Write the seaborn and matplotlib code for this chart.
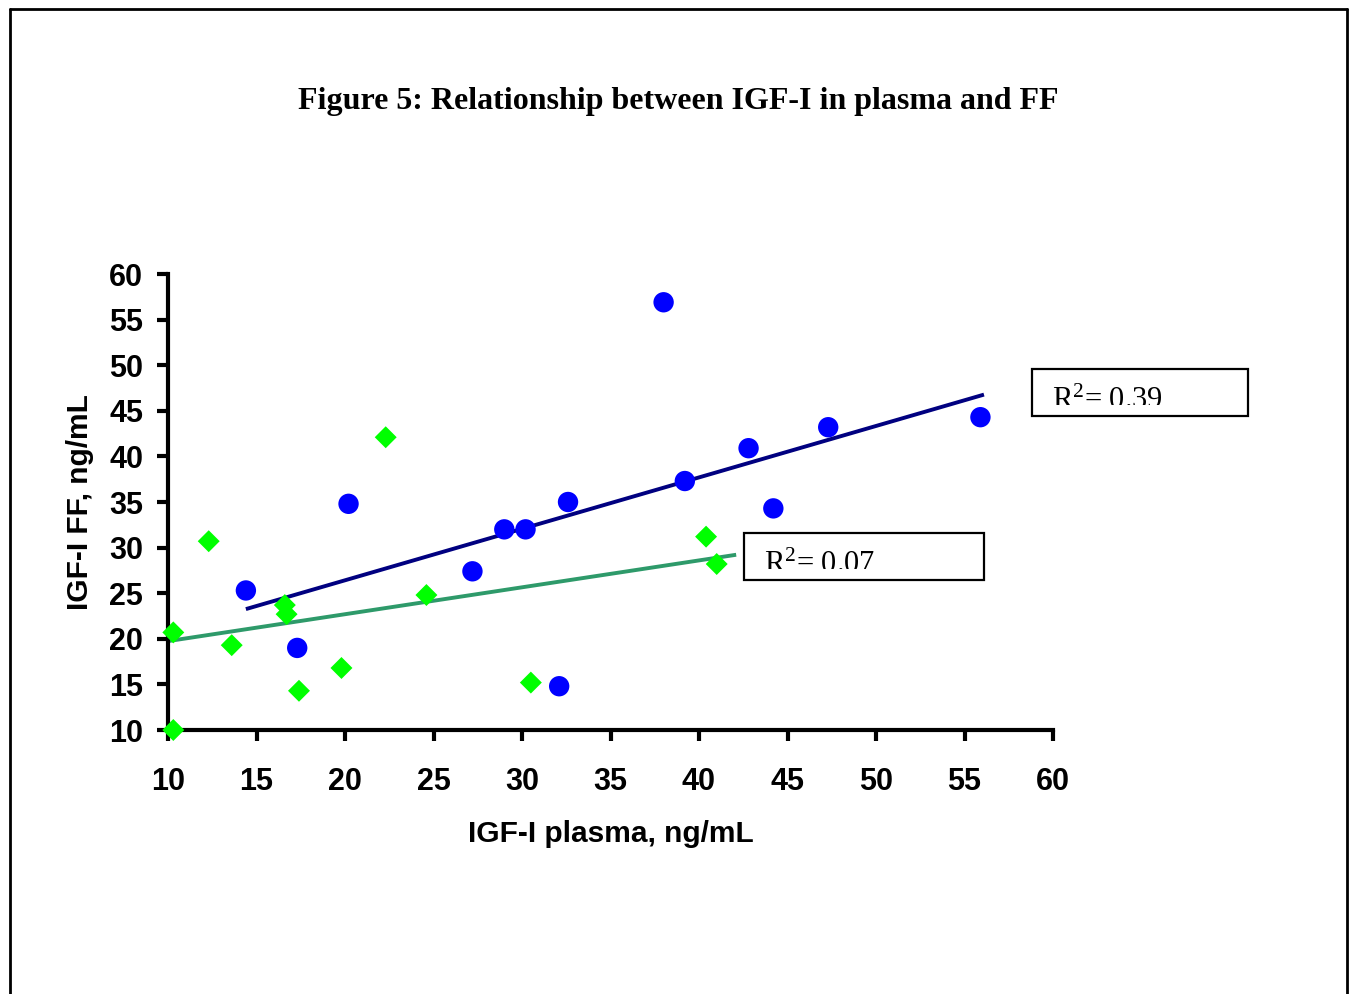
import numpy as np
import pandas as pd
import seaborn as sns
import matplotlib.pyplot as plt
from matplotlib.lines import Line2D
from matplotlib.patches import Rectangle
from matplotlib.transforms import Bbox, TransformedBbox

# IGF-I values (ng/mL)
blue_plasma = [14.4, 17.3, 20.2, 27.2, 29.0, 30.2, 32.6, 32.1, 38.0, 39.2, 42.8, 44.2, 47.3, 55.9]
blue_ff = [25.3, 19.0, 34.8, 27.4, 32.0, 32.0, 35.0, 14.8, 56.9, 37.3, 40.9, 34.3, 43.2, 44.3]
green_plasma = [10.3, 10.3, 12.3, 13.6, 16.6, 16.7, 17.4, 19.8, 22.3, 24.6, 30.5, 40.4, 41.0]
green_ff = [20.7, 10.0, 30.7, 19.3, 23.7, 22.7, 14.3, 16.8, 42.1, 24.8, 15.2, 31.2, 28.2]

# x span covered by each trendline
blue_trend_x = [14.4, 56.1]
green_trend_x = [10.0, 42.1]
r2_labels = ["R$^{2}$= 0.39", "R$^{2}$= 0.07"]

ticks = [10, 15, 20, 25, 30, 35, 40, 45, 50, 55, 60]

sns.set_style("white")
plt.rcParams['font.family'] = ['Liberation Sans', 'DejaVu Sans']
plt.rcParams['text.color'] = 'black'
plt.rcParams['axes.labelcolor'] = 'black'
plt.rcParams['xtick.color'] = 'black'
plt.rcParams['ytick.color'] = 'black'
plt.rcParams['mathtext.fontset'] = 'custom'
plt.rcParams['mathtext.rm'] = 'Liberation Serif'
plt.rcParams['mathtext.it'] = 'Liberation Serif'

fig = plt.figure(figsize=(13.53, 9.94), dpi=100)
ax = fig.add_axes([168 / 1353, 1 - 730 / 994, 885 / 1353, 456 / 994])

blue = pd.DataFrame({'plasma': blue_plasma, 'ff': blue_ff})
green = pd.DataFrame({'plasma': green_plasma, 'ff': green_ff})

# trendlines (least squares, like the Excel ones)
for df, span, col in [(blue, blue_trend_x, '#000080'), (green, green_trend_x, '#2e9a6a')]:
    k, b = np.polyfit(df['plasma'], df['ff'], 1)
    xs = np.array(span)
    ax.plot(xs, k * xs + b, color=col, lw=2.8, zorder=2, solid_capstyle='butt')

sns.scatterplot(data=blue, x='plasma', y='ff', ax=ax, marker='o', s=215,
                color='#0000ff', edgecolor='none', zorder=3, clip_on=False)
sns.scatterplot(data=green, x='plasma', y='ff', ax=ax, marker='D', s=125,
                color='#00ff00', edgecolor='none', zorder=3, clip_on=False)

ax.set_xlim(10, 60)
ax.set_ylim(10, 60)
ax.set_xticks(ticks)
ax.set_yticks(ticks)
for s in ['top', 'right']:
    ax.spines[s].set_visible(False)
for s in ['left', 'bottom']:
    ax.spines[s].set_linewidth(3)
    ax.spines[s].set_color('black')
ax.tick_params(axis='both', direction='out', length=8, width=3, color='black',
               labelcolor='black', labelsize=22, bottom=True, left=True)
ax.tick_params(axis='x', pad=19)
ax.tick_params(axis='y', pad=10)
for lab in ax.get_xticklabels() + ax.get_yticklabels():
    lab.set_fontweight('bold')

ax.set_xlabel('IGF-I plasma, ng/mL', fontsize=21.5, fontweight='bold')
ax.set_ylabel('IGF-I FF, ng/mL', fontsize=21.5, fontweight='bold')
ax.xaxis.label.set_va('center')
ax.yaxis.label.set_va('center')
ax.xaxis.set_label_coords(0.5, -0.229)
ax.yaxis.set_label_coords(-0.1, 0.5)

fig.text(678 / 1353, 1 - 102 / 994, 'Figure 5: Relationship between IGF-I in plasma and FF',
         ha='center', va='center', fontsize=23, fontweight='bold',
         family=['Liberation Serif', 'DejaVu Serif'])

# R squared boxes, text clipped at the bottom as in the original
W, H = 1353, 994
for (x0, y0, x1, y1), txt in zip([(1032, 369, 1248, 416), (744, 533, 984, 580)], r2_labels):
    fig.patches.append(Rectangle((x0 / W, 1 - y1 / H), (x1 - x0) / W, (y1 - y0) / H,
                                 transform=fig.transFigure, fill=False,
                                 edgecolor='black', lw=1.6))
    t = fig.text((x0 + 20) / W, 1 - (y1 - 7) / H, txt, ha='left', va='baseline',
                 fontsize=22, family=['Liberation Serif', 'DejaVu Serif'])
    t.set_clip_on(True)
    t.set_clip_box(TransformedBbox(Bbox([[x0 / W, 1 - (y1 - 11) / H], [x1 / W, 1 - y0 / H]]),
                                   fig.transFigure))

# outer frame (bottom edge runs past the image)
for xs, ys in [([10 / W, 10 / W], [0, 1 - 9 / H]),
               ([10 / W, 1347 / W], [1 - 9 / H, 1 - 9 / H]),
               ([1347 / W, 1347 / W], [0, 1 - 9 / H])]:
    fig.add_artist(Line2D(xs, ys, transform=fig.transFigure, color='black', lw=2))

fig.savefig('out.png', dpi=100)
